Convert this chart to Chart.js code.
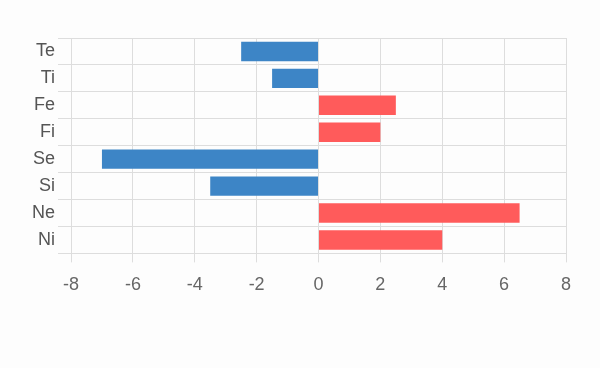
<!DOCTYPE html>
<html><head><meta charset="utf-8">
<script src="https://cdn.jsdelivr.net/npm/chart.js@4/dist/chart.umd.min.js"></script>
<style>html,body{margin:0;padding:0;background:#fdfdfd;}#w{width:600px;height:368px;}</style>
</head><body><div id="w"><canvas id="c"></canvas></div>
<script>
const categories = ["Te","Ti","Fe","Fi","Se","Si","Ne","Ni"];
const values = [-2.5,-1.5,2.5,2,-7,-3.5,6.5,4];
const xTicks = [-8,-6,-4,-2,0,2,4,6,8];
const negColor = "#3d85c6";
const posColor = "#ff5b5b";
new Chart(document.getElementById("c"), {
  type: "bar",
  data: { labels: categories, datasets: [{ data: values,
    backgroundColor: values.map(v => v < 0 ? negColor : posColor),
    borderWidth: 0 }] },
  options: {
    indexAxis: "y", responsive: true, maintainAspectRatio: false, animation: false,
    layout: { padding: { left: 29, right: 34, top: 38, bottom: 60 } },
    plugins: { legend: { display: false }, tooltip: { enabled: false } },
    scales: {
      x: { min: -8, max: 8, afterBuildTicks: a => { a.ticks = xTicks.map(v => ({ value: v })); },
        grid: { color: "#dddddd", tickLength: 9 }, border: { color: "#dddddd" },
        ticks: { color: "#666", font: { family: "Liberation Sans", size: 18 }, padding: 12 } },
      y: { grid: { color: "#dddddd", offset: true, tickLength: 13 }, border: { color: "#dddddd" },
        ticks: { color: "#555", font: { family: "Liberation Sans", size: 18 }, padding: 3 } }
    }
  }
});
</script></body></html>
